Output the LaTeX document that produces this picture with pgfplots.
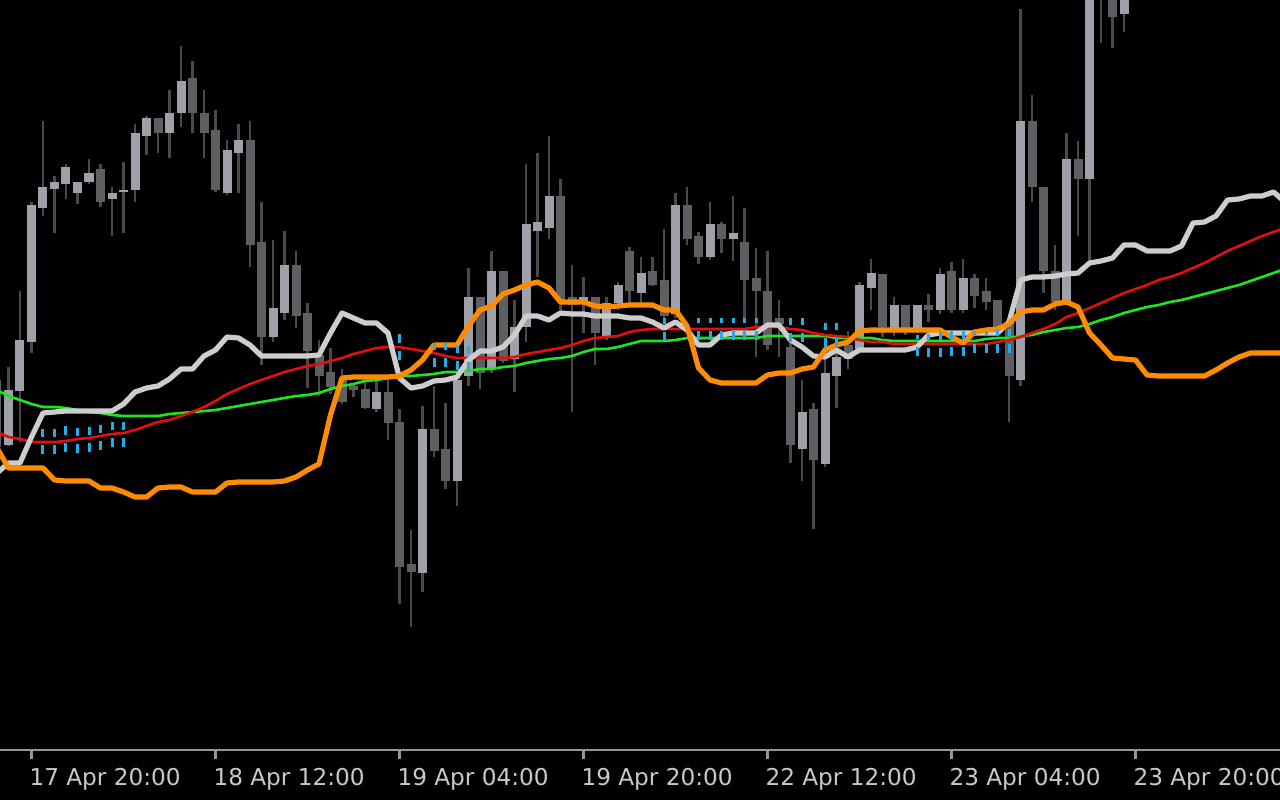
\documentclass[border=0pt]{standalone}
\usepackage{pgfplots}
\pgfplotsset{compat=1.18}
\usepackage{pgfplotstable}
\usepackage{fontspec}
\newfontfamily\lblfont{DejaVu Sans}
\definecolor{bullbody}{RGB}{158,161,170}
\definecolor{bearbody}{RGB}{94,95,99}
\definecolor{wickc}{RGB}{74,74,77}
\definecolor{wline}{RGB}{205,205,205}
\definecolor{oline}{RGB}{255,140,0}
\definecolor{rline}{RGB}{225,15,15}
\definecolor{gline}{RGB}{30,230,30}
\definecolor{cline}{RGB}{35,172,232}
\definecolor{axgray}{RGB}{150,150,150}
\definecolor{lblc}{RGB}{198,202,208}

% candles: i, body top, body bottom, wick top, wick bottom (pixel rows, 0 = top)
\pgfplotstableread{
i bt bb wt wb
-2 390 445 367 446
-1 340 391 291 442
0 205 342 202 353
1 187 208 121 216
2 182 189 176 233
3 167 184 164 199
4 182 193 182 204
5 173 182 159 184
7 193 199 187 236
8 190 192 162 233
9 133 190 124 202
10 118 136 116 155
12 113 133 90 158
13 81 113 46 127
17 150 193 140 195
18 140 153 124 193
21 308 337 240 342
22 265 313 231 320
30 392 409 380 412
34 429 573 406 592
37 380 481 380 506
38 297 376 268 386
40 271 369 251 373
42 327 359 300 392
43 224 327 164 342
44 222 231 153 277
45 196 228 136 239
48 297 304 277 333
50 303 337 297 340
51 285 303 282 310
53 273 293 257 303
56 205 314 193 318
59 224 257 202 260
61 233 239 196 261
67 412 449 380 481
69 373 464 354 467
70 357 376 351 408
72 285 349 282 352
73 273 288 259 310
75 305 331 297 336
77 305 331 305 333
79 274 310 268 314
81 278 310 259 313
86 121 380 9 386
90 159 302 133 305
92 -50 179 -80 262
95 -20 14 -40 32
}\bull
\pgfplotstableread{
i bt bb wt wb
-3 380 447 372 452
6 169 202 164 207
11 118 133 118 153
14 78 113 61 133
15 113 133 90 158
16 130 190 110 192
19 140 245 121 267
20 242 337 202 365
23 265 316 251 328
24 313 351 303 388
25 355 376 340 396
26 372 387 348 394
27 380 402 369 404
28 386 390 384 397
29 389 408 382 409
31 392 423 380 440
32 422 567 409 604
33 564 572 530 627
35 429 451 386 457
36 449 481 403 489
39 297 373 297 389
41 271 361 271 363
46 196 300 179 310
47 297 305 265 412
49 297 333 297 365
52 251 291 247 303
54 271 285 257 286
55 280 316 229 322
57 205 239 187 245
58 236 257 232 264
60 224 239 222 253
62 242 280 208 318
63 278 291 248 357
64 291 345 251 350
65 318 324 300 357
66 347 445 339 463
68 409 460 403 529
71 345 359 331 369
74 274 327 274 337
76 305 331 305 335
78 305 310 294 322
80 271 310 262 313
82 278 296 274 308
83 291 302 278 310
84 300 327 300 330
85 322 376 322 422
87 121 187 95 202
88 187 271 187 293
89 271 302 245 310
91 159 179 141 236
93 -40 -5 -60 43
94 -20 17 -40 48
}\bear

% indicator lines: W = light grey, O = orange, R = red, G = green (pixel rows)
\pgfplotstableread{
i W O R G
-3 473 448 432 390
-2 463 468 437 396
-1 463 468 439 400
0 437 468 442 404
1 413 468 442 407
2 412 480 442 407
3 411 481 441 408
4 411 481 439 410
5 411 481 438 412
6 411 488 436 413
7 411 488 434 415
8 404 492 433 416
9 392 497 430 416
10 388 497 426 416
11 386 488 422 416
12 379 487 420 414
13 369 487 416 413
14 369 492 412 412
15 356 492 407 411
16 350 492 401 410
17 337 483 394 408
18 338 482 389 406
19 345 482 384 404
20 356 482 380 402
21 356 482 376 400
22 356 481 372 398
23 356 477 369 396
24 356 470 366 395
25 355 464 364 393
26 333 415 361 389
27 313 378 358 386
28 318 377 354 384
29 323 377 351 381
30 323 377 348 380
31 333 377 347 378
32 378 376 347 376
33 388 370 349 376
34 386 360 351 375
35 381 345 353 374
36 380 345 356 372
37 377 345 358 372
38 360 326 358 371
39 351 310 358 369
40 351 306 358 369
41 347 294 358 367
42 335 290 357 366
43 316 285 354 363
44 316 282 352 361
45 320 288 350 359
46 313 302 348 358
47 314 302 345 356
48 314 302 341 352
49 316 306 338 349
50 316 307 337 349
51 316 306 336 347
52 318 305 332 344
53 318 305 330 341
54 322 305 329 341
55 328 310 329 341
56 322 310 329 340
57 330 326 329 338
58 345 368 329 338
59 345 380 329 338
60 335 383 329 338
61 333 383 329 338
62 333 383 329 338
63 333 383 327 338
64 325 375 327 336
65 325 373 327 336
66 340 373 329 336
67 347 369 330 336
68 356 367 333 336
69 357 350 335 336
70 350 345 336 338
71 357 342 337 338
72 350 331 340 338
73 350 330 342 338
74 350 330 342 340
75 350 330 344 341
76 350 330 344 341
77 347 330 344 341
78 335 330 344 341
79 333 330 344 341
80 333 337 344 341
81 333 343 344 341
82 333 332 344 341
83 333 330 344 339
84 333 329 342 338
85 322 324 340 338
86 280 312 337 336
87 277 310 333 335
88 277 310 329 332
89 276 304 324 330
90 274 302 317 328
91 273 307 313 327
92 263 333 308 324
93 261 345 303 320
94 258 358 298 317
95 245 359 293 313
96 245 360 289 310
97 251 375 285 307
98 251 376 280 305
99 251 376 277 302
100 246 376 273 300
101 223 376 268 297
102 222 376 263 294
103 216 370 257 291
104 200 363 251 288
105 199 357 246 285
106 196 353 241 281
107 196 353 236 277
108 192 353 232 273
109 202 353 228 269
}\lines

% dotted cyan bars: i, top, bottom
\pgfplotstableread{
i t b
1 429 454
2 429 454
3 426 452
4 428 453
5 427 452
6 425 450
7 422 447
8 422 447
32 334 360
35 343 367
36 343 367
37 346 370
38 346 371
55 318 341
58 318 340
59 318 340
60 318 340
61 318 340
62 318 340
63 318 340
66 318 342
67 318 342
69 323 347
70 323 347
77 335 356
78 334 357
79 331 357
80 331 356
81 331 356
82 331 353
83 331 353
84 329 353
85 329 353
}\cyantab

\begin{document}
\begin{tikzpicture}
\path[use as bounding box] (0,-25pt) rectangle (640pt,375pt);
\fill[black] (0,-25pt) rectangle (640pt,375pt);
\begin{axis}[
  scale only axis, width=640pt, height=375pt,
  at={(0,0)}, anchor=south west,
  xmin=-2.739, xmax=108.565, ymin=0, ymax=750,
  axis x line=bottom, axis y line=none,
  x axis line style={-, draw=axgray, line width=1pt},
  xtick={0,16,32,48,64,80,96},
  xticklabels={17 Apr 20:00,18 Apr 12:00,19 Apr 04:00,19 Apr 20:00,22 Apr 12:00,23 Apr 04:00,23 Apr 20:00},
  xtick align=outside, major tick length=4.5pt,
  xtick style={draw=axgray, line width=1.2pt},
  xticklabel style={font=\lblfont\fontsize{11.6pt}{13pt}\selectfont, text=lblc, anchor=north west, inner sep=0pt, xshift=-1.2pt, yshift=-4.5pt},
  clip=true,
  candle/.style={draw=none, mark=none, error bars/.cd, y dir=plus, y explicit, error mark=none},
]
% wicks
\addplot[candle, error bar style={line width=1.1pt, draw=wickc, solid}]
  table[x=i, y expr=750-\thisrow{wb}, y error expr=\thisrow{wb}-\thisrow{wt}] {\bull};
\addplot[candle, error bar style={line width=1.1pt, draw=wickc, solid}]
  table[x=i, y expr=750-\thisrow{wb}, y error expr=\thisrow{wb}-\thisrow{wt}] {\bear};
% bodies
\addplot[candle, error bar style={line width=4.5pt, draw=bullbody, solid}]
  table[x=i, y expr=750-\thisrow{bb}, y error expr=\thisrow{bb}-\thisrow{bt}] {\bull};
\addplot[candle, error bar style={line width=4.5pt, draw=bearbody, solid}]
  table[x=i, y expr=750-\thisrow{bb}, y error expr=\thisrow{bb}-\thisrow{bt}] {\bear};
% lines
\addplot[gline, line width=1.3pt, line join=round, mark=none] table[x=i, y expr=750-\thisrow{G}] {\lines};
\addplot[rline, line width=1.3pt, line join=round, mark=none] table[x=i, y expr=750-\thisrow{R}] {\lines};
\addplot[wline, line width=2.6pt, line join=round, mark=none] table[x=i, y expr=750-\thisrow{W}] {\lines};
\addplot[oline, line width=2.6pt, line join=round, mark=none] table[x=i, y expr=750-\thisrow{O}] {\lines};
% cyan dotted bars
\addplot[candle, error bar style={line width=1.5pt, draw=cline, dash pattern=on 4.5pt off 4pt}]
  table[x=i, y expr=750-\thisrow{b}, y error expr=\thisrow{b}-\thisrow{t}] {\cyantab};
\end{axis}
\end{tikzpicture}
\end{document}
